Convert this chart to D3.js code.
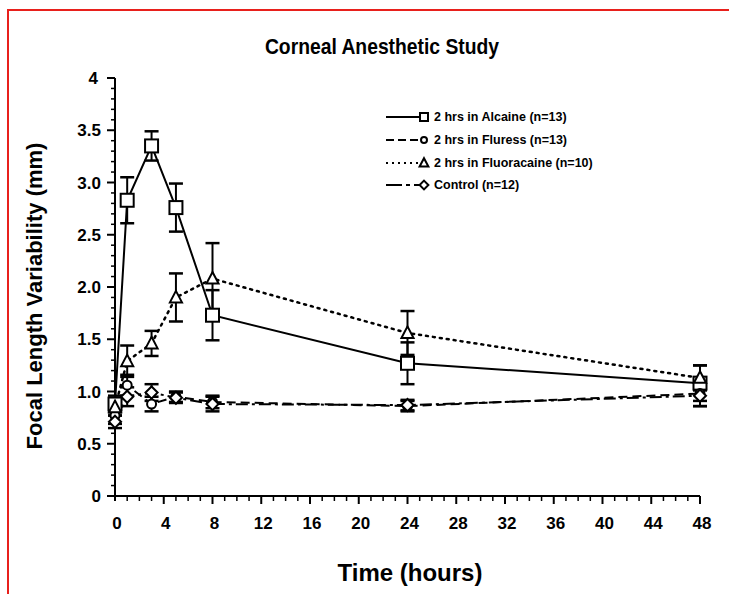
<!DOCTYPE html>
<html><head><meta charset="utf-8">
<script src="https://cdn.jsdelivr.net/npm/d3@7"></script>
<style>body{margin:0;background:#fff}svg{display:block}text{font-family:"Liberation Sans",Arial,sans-serif;font-weight:bold;fill:#000}</style>
</head><body>
<script>
const times = [0, 1, 3, 5, 8, 24, 48];
const alcaine = [0.88, 2.83, 3.35, 2.76, 1.73, 1.27, 1.08];
const alcaineErr = [0.08, 0.22, 0.14, 0.23, 0.24, 0.2, 0.17];
const fluress = [0.77, 1.06, 0.88, 0.95, 0.9, 0.86, 0.98];
const fluressErr = [0.08, 0.1, 0.07, 0.05, 0.06, 0.05, 0.12];
const fluoracaine = [0.85, 1.29, 1.46, 1.9, 2.08, 1.56, 1.13];
const fluoracaineErr = [0.08, 0.15, 0.12, 0.23, 0.34, 0.21, 0.12];
const control = [0.71, 0.95, 0.99, 0.94, 0.88, 0.87, 0.96];
const controlErr = [0.06, 0.09, 0.08, 0.05, 0.07, 0.05, 0.1];
const seriesNames = ["2 hrs in Alcaine (n=13)", "2 hrs in Fluress (n=13)", "2 hrs in Fluoracaine (n=10)", "Control (n=12)"];
const xTicks = [0, 4, 8, 12, 16, 20, 24, 28, 32, 36, 40, 44, 48];
const yTicks = [0, 0.5, 1, 1.5, 2, 2.5, 3, 3.5, 4];
const yTickLabels = ["0", "0.5", "1.0", "1.5", "2.0", "2.5", "3.0", "3.5", "4"];

const W = 729, H = 594;
const svg = d3.select("body").append("svg").attr("width", W).attr("height", H);

// red frame
svg.append("path").attr("d", "M8,594 L8,10 L729,10").attr("fill", "none").attr("stroke", "#e8201c").attr("stroke-width", 2);

const x = d3.scaleLinear().domain([0, 48]).range([115, 700]);
const y = d3.scaleLinear().domain([0, 4]).range([496, 78]);

// title
svg.append("text").attr("x", 382).attr("y", 50).attr("text-anchor", "middle")
  .attr("transform", "translate(382,0) scale(0.92,1.08) translate(-382,0)")
  .style("font-size", "21px").text("Corneal Anesthetic Study");

// axes
const ax = svg.append("g").attr("stroke", "#000").attr("stroke-width", 2);
ax.append("line").attr("x1", x(0)).attr("x2", x(0)).attr("y1", y(4)).attr("y2", y(0) + 5);
ax.append("line").attr("x1", x(0) - 8).attr("x2", x(0)).attr("y1", y(4)).attr("y2", y(4));
ax.append("line").attr("x1", x(0)).attr("x2", x(48)).attr("y1", y(0)).attr("y2", y(0));
d3.range(0, 40).forEach(i => {
  const v = i / 10, major = i % 5 === 0;
  ax.append("line").attr("x1", x(0) - (major ? 8 : 4)).attr("x2", x(0)).attr("y1", y(v)).attr("y2", y(v)).attr("stroke-width", major ? 2 : 1.5);
});
d3.range(1, 49).forEach(h => {
  const major = h % 4 === 0;
  ax.append("line").attr("x1", x(h)).attr("x2", x(h)).attr("y1", y(0)).attr("y2", y(0) + (major ? 8 : 5)).attr("stroke-width", major ? 2 : 1.5);
});

svg.append("g").selectAll("text").data(yTicks).join("text")
  .attr("x", (d, i) => i === yTicks.length - 1 ? 98 : 101).attr("y", d => y(d) + 6)
  .attr("text-anchor", "end").style("font-size", "17px").text((d, i) => yTickLabels[i]);
svg.append("g").selectAll("text").data(xTicks).join("text")
  .attr("x", d => x(d) + 2).attr("y", 529).attr("text-anchor", "middle").style("font-size", "17px").text(d => d);

svg.append("text").attr("transform", "translate(42,296) rotate(-90)").attr("text-anchor", "middle")
  .style("font-size", "22px").text("Focal Length Variability (mm)");
svg.append("text").attr("x", 410).attr("y", 581).attr("text-anchor", "middle").style("font-size", "24px").text("Time (hours)");

// series
const series = [
  {vals: alcaine, err: alcaineErr, dash: null, marker: "square"},
  {vals: fluress, err: fluressErr, dash: "9,5", marker: "circle"},
  {vals: fluoracaine, err: fluoracaineErr, dash: "2,5", marker: "triangle"},
  {vals: control, err: controlErr, dash: "12,4,3,4", marker: "diamond"}
];

function drawMarker(g, type, cx, cy, s) {
  if (type === "square") g.append("rect").attr("x", cx - s / 2).attr("y", cy - s / 2).attr("width", s).attr("height", s);
  else if (type === "circle") g.append("circle").attr("cx", cx).attr("cy", cy).attr("r", s / 2 - 1);
  else if (type === "triangle") g.append("path").attr("d", `M${cx},${cy - s * 0.6} L${cx + s * 0.55},${cy + s * 0.45} L${cx - s * 0.55},${cy + s * 0.45}Z`);
  else g.append("path").attr("d", `M${cx},${cy - s * 0.55} L${cx + s * 0.55},${cy} L${cx},${cy + s * 0.55} L${cx - s * 0.55},${cy}Z`);
}

const line = d3.line().x(d => x(d[0])).y(d => y(d[1]));
series.forEach(s => {
  const pts = times.map((t, i) => [t, s.vals[i]]);
  svg.append("path").attr("d", line(pts)).attr("fill", "none").attr("stroke", "#000")
    .attr("stroke-width", s.dash === "2,5" ? 2.5 : 2).attr("stroke-dasharray", s.dash)
    .attr("stroke-linecap", s.dash === "2,5" ? "round" : "butt");
});
series.forEach(s => {
  const g = svg.append("g").attr("stroke", "#000").attr("stroke-width", 2);
  times.forEach((t, i) => {
    const cx = x(t), lo = y(s.vals[i] - s.err[i]), hi = y(s.vals[i] + s.err[i]);
    g.append("line").attr("x1", cx).attr("x2", cx).attr("y1", lo).attr("y2", hi);
    g.append("line").attr("x1", cx - 7).attr("x2", cx + 7).attr("y1", lo).attr("y2", lo).attr("stroke-width", 2.5);
    g.append("line").attr("x1", cx - 7).attr("x2", cx + 7).attr("y1", hi).attr("y2", hi).attr("stroke-width", 2.5);
  });
});
series.forEach(s => {
  const g = svg.append("g").attr("stroke", "#000").attr("stroke-width", 2).attr("fill", "#fff");
  times.forEach((t, i) => drawMarker(g, s.marker, x(t), y(s.vals[i]), s.marker === "square" ? 13 : 11));
});

// legend
const legY = [117, 140, 163, 185];
series.forEach((s, i) => {
  const g = svg.append("g");
  g.append("line").attr("x1", 386).attr("x2", 419).attr("y1", legY[i]).attr("y2", legY[i])
    .attr("stroke", "#000").attr("stroke-width", 2).attr("stroke-dasharray", s.dash === "9,5" ? "8,4" : s.dash === "2,5" ? "2,4" : s.dash === "12,4,3,4" ? "16,4,4,4" : null);
  const mg = g.append("g").attr("stroke", "#000").attr("stroke-width", 2).attr("fill", "#fff");
  drawMarker(mg, s.marker, 424, legY[i], 8);
  g.append("text").attr("x", 434).attr("y", legY[i] + 4).style("font-size", "12.5px").text(seriesNames[i]);
});
</script>
</body></html>
